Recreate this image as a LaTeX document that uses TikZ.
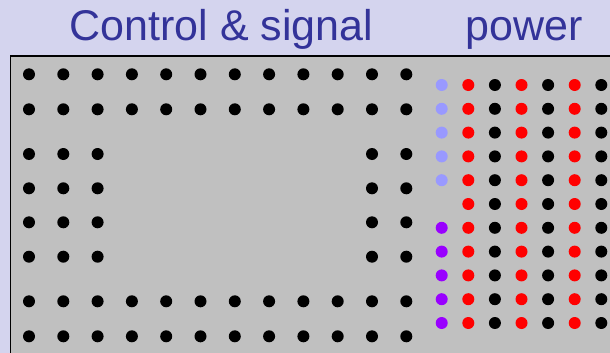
\documentclass[tikz,border=0pt]{standalone}
\usepackage{fontspec}
\setmainfont{Liberation Sans}
\definecolor{titleblue}{RGB}{51,51,153}
\definecolor{bgtint}{RGB}{212,212,238}
\definecolor{boardgray}{RGB}{192,192,192}
\definecolor{lightpin}{RGB}{153,153,255}
\definecolor{violetpin}{RGB}{153,0,255}
\begin{document}
\begin{tikzpicture}[x=1pt,y=-1pt,
  pin/.style={circle,fill=#1,draw=none,inner sep=0pt,minimum size=12pt},
  heading/.style={font=\fontsize{43}{43}\selectfont,text=titleblue,inner sep=0pt,anchor=base}]
  \useasboundingbox (0,0) rectangle (610,353);
  % textured backdrop and the connector board
  \fill[bgtint] (0,0) rectangle (610,353);
  \draw[line width=1.5pt,fill=boardgray] (10.5,56) rectangle (625,370);

  % headings
  \node[heading] (ctl) at (221.5,41) {Control \& signal};
  \node[heading] (pwr) at (524,41) {power};

  % control & signal field: full rows at top and bottom
  \foreach \r/\y in {1/74.3,2/109.3,7/301.3,8/336.3}{
    \foreach \c in {0,...,11}{
      \node[pin=black] (s-\r-\c) at ({29+34.3*\c},\y) {};
    }
  }
  % side columns framing the open middle
  \foreach \r/\y in {3/154,4/188.3,5/222.3,6/256.7}{
    \foreach \c in {0,1,2,10,11}{
      \node[pin=black] (s-\r-\c) at ({29+34.3*\c},\y) {};
    }
  }

  % power field
  \foreach \r in {0,...,10}{
    \pgfmathsetmacro{\py}{85+23.8*\r}
    \foreach \c/\col in {1/red,2/black,3/red,4/black,5/red,6/black}{
      \node[pin=\col] (p-\r-\c) at ({441.7+26.6*\c},\py) {};
    }
  }
  \foreach \r in {0,...,4}{
    \node[pin=lightpin] (p-\r-0) at (441.7,{85+23.8*\r}) {};
  }
  \foreach \r in {6,...,10}{
    \node[pin=violetpin] (p-\r-0) at (441.7,{85+23.8*\r}) {};
  }
\end{tikzpicture}
\end{document}
